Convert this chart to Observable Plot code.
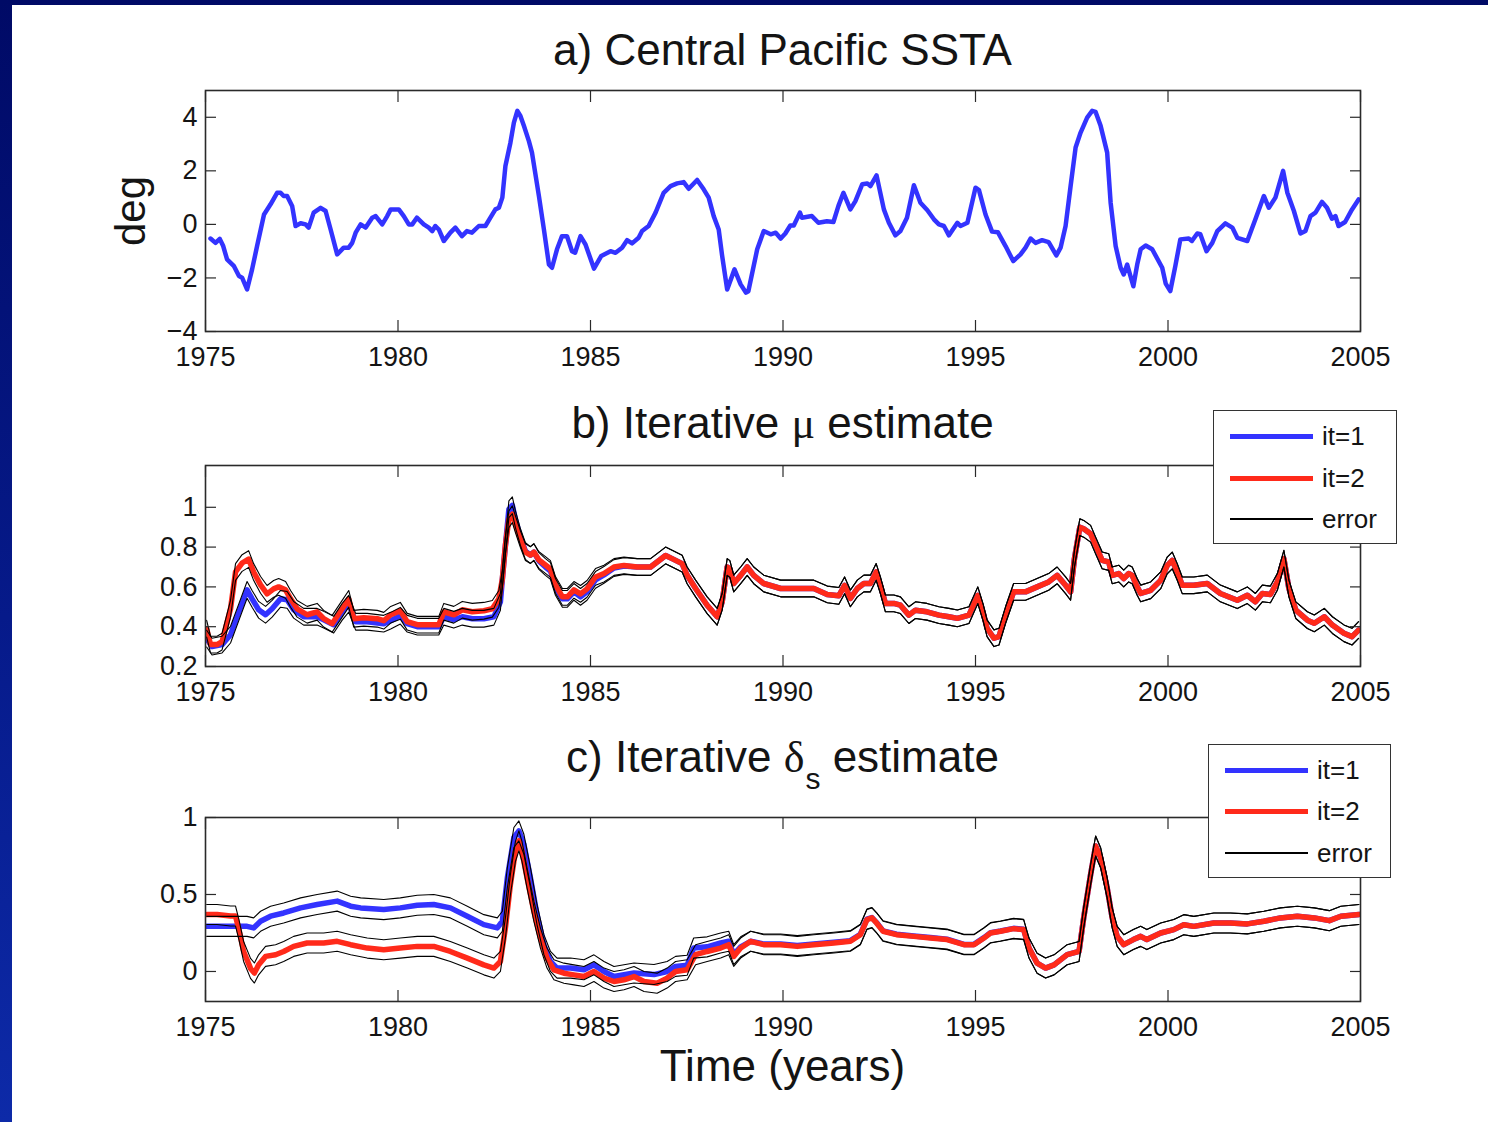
<!DOCTYPE html>
<html>
<head>
<meta charset="utf-8">
<script src="https://cdn.jsdelivr.net/npm/d3@7"></script>
<script src="https://cdn.jsdelivr.net/npm/@observablehq/plot@0.6"></script>
<style>
html, body { margin: 0; padding: 0; }
body {
  width: 1488px; height: 1122px; position: relative; overflow: hidden;
  background: linear-gradient(180deg, #000a66 0%, #061a8a 55%, #0d2aa8 100%);
  font-family: "Liberation Sans", Arial, Helvetica, sans-serif; color: #141414;
}
#page { position: absolute; left: 12px; top: 5px; right: 0; bottom: 0; background: #fff; }
.panel { position: absolute; left: 0; }
.title { position: absolute; font-size: 44px; line-height: 44px; white-space: nowrap; transform: translateX(-50%); }
.greek { font-family: "Liberation Serif", "DejaVu Serif", serif; }
.sub { position: relative; top: 0.55em; font-size: 30px; margin-left: 1px; }
.ylab { position: absolute; font-size: 42px; line-height: 42px; white-space: nowrap; transform: translate(-50%, -50%) rotate(-90deg); }
.legend { position: absolute; background: #fff; border: 1.6px solid #333; box-sizing: border-box; }
.legend .sw { position: absolute; }
.legend .lt { position: absolute; font-size: 26px; line-height: 26px; transform: translateY(-50%); white-space: nowrap; }
</style>
</head>
<body>
<div id="page"></div>
<script>
// ---------------- data ----------------
const xTicks = [1975, 1980, 1985, 1990, 1995, 2000, 2005];
const sstaTicks = [-4, -2, 0, 2, 4];
const muTicks = [0.2, 0.4, 0.6, 0.8, 1];
const deltaTicks = [0, 0.5, 1];
const panelTitles = ["a) Central Pacific SSTA", "b) Iterative ", "μ", " estimate", "c) Iterative ", "δ", "s", " estimate"];
const yLabelA = "deg";
const xLabel = "Time (years)";
const legendLabels = ["it=1", "it=2", "error"];
const errMu = 0.042;     // half-width of error band, panel b
const errDelta = 0.065;  // half-width of error band, panel c

// a) Central Pacific SSTA (deg)
const ssta = [[1975.13,-0.53],[1975.26,-0.69],[1975.37,-0.54],[1975.46,-0.81],[1975.56,-1.31],[1975.74,-1.56],[1975.87,-1.93],[1975.95,-1.99],[1976.08,-2.43],[1976.21,-1.68],[1976.34,-0.81],[1976.52,0.37],[1976.69,0.75],[1976.86,1.18],[1976.95,1.18],[1977.03,1.06],[1977.12,1.06],[1977.25,0.69],[1977.34,-0.06],[1977.47,0.04],[1977.6,0.0],[1977.68,-0.12],[1977.81,0.44],[1977.99,0.62],[1978.12,0.5],[1978.25,-0.19],[1978.42,-1.12],[1978.59,-0.87],[1978.72,-0.87],[1978.81,-0.69],[1978.9,-0.31],[1979.03,0.0],[1979.16,-0.12],[1979.33,0.25],[1979.42,0.31],[1979.59,0.0],[1979.72,0.31],[1979.81,0.56],[1980.02,0.56],[1980.15,0.31],[1980.28,0.0],[1980.37,0.0],[1980.49,0.25],[1980.67,0.0],[1980.8,-0.12],[1980.89,-0.25],[1980.97,-0.06],[1981.06,-0.19],[1981.19,-0.62],[1981.36,-0.31],[1981.49,-0.12],[1981.66,-0.44],[1981.79,-0.25],[1981.92,-0.31],[1982.1,-0.06],[1982.27,-0.06],[1982.4,0.25],[1982.53,0.56],[1982.62,0.62],[1982.71,1.0],[1982.79,2.18],[1982.92,3.05],[1983.01,3.8],[1983.1,4.24],[1983.18,4.05],[1983.27,3.68],[1983.4,3.11],[1983.48,2.68],[1983.66,1.06],[1983.79,-0.19],[1983.92,-1.5],[1984.0,-1.62],[1984.13,-0.93],[1984.26,-0.44],[1984.39,-0.44],[1984.52,-1.0],[1984.6,-1.06],[1984.74,-0.44],[1984.87,-0.75],[1985.09,-1.65],[1985.28,-1.18],[1985.52,-1.0],[1985.65,-1.06],[1985.82,-0.87],[1985.95,-0.59],[1986.08,-0.71],[1986.25,-0.5],[1986.34,-0.25],[1986.51,-0.06],[1986.69,0.44],[1986.9,1.18],[1987.08,1.43],[1987.25,1.53],[1987.42,1.58],[1987.55,1.33],[1987.77,1.66],[1987.94,1.31],[1988.07,1.0],[1988.2,0.31],[1988.33,-0.19],[1988.42,-1.18],[1988.55,-2.43],[1988.74,-1.68],[1988.9,-2.24],[1989.04,-2.55],[1989.1,-2.5],[1989.33,-0.93],[1989.5,-0.25],[1989.68,-0.37],[1989.81,-0.31],[1989.94,-0.53],[1990.06,-0.34],[1990.19,-0.04],[1990.28,-0.04],[1990.44,0.44],[1990.49,0.25],[1990.75,0.31],[1990.92,0.06],[1991.14,0.12],[1991.31,0.09],[1991.44,0.69],[1991.57,1.18],[1991.75,0.56],[1991.88,0.87],[1992.06,1.5],[1992.19,1.53],[1992.27,1.43],[1992.43,1.83],[1992.62,0.56],[1992.75,0.06],[1992.92,-0.41],[1993.05,-0.25],[1993.22,0.25],[1993.4,1.46],[1993.57,0.81],[1993.75,0.53],[1993.92,0.19],[1994.05,0.0],[1994.18,-0.06],[1994.31,-0.41],[1994.53,0.06],[1994.61,-0.06],[1994.79,0.06],[1995.0,1.37],[1995.09,1.28],[1995.26,0.37],[1995.43,-0.27],[1995.58,-0.29],[1995.78,-0.81],[1995.98,-1.37],[1996.17,-1.12],[1996.3,-0.87],[1996.43,-0.53],[1996.56,-0.69],[1996.73,-0.59],[1996.9,-0.66],[1997.1,-1.16],[1997.21,-0.87],[1997.34,-0.06],[1997.47,1.43],[1997.6,2.87],[1997.73,3.43],[1997.9,3.99],[1998.03,4.24],[1998.12,4.2],[1998.25,3.68],[1998.42,2.68],[1998.51,0.81],[1998.64,-0.81],[1998.77,-1.62],[1998.85,-1.87],[1998.94,-1.5],[1999.1,-2.31],[1999.2,-1.5],[1999.29,-0.93],[1999.42,-0.79],[1999.59,-0.93],[1999.85,-1.62],[1999.94,-2.21],[2000.06,-2.49],[2000.19,-1.56],[2000.32,-0.56],[2000.54,-0.53],[2000.62,-0.62],[2000.76,-0.34],[2000.84,-0.37],[2001.0,-1.0],[2001.15,-0.69],[2001.28,-0.25],[2001.49,0.04],[2001.67,-0.12],[2001.8,-0.5],[2002.06,-0.62],[2002.27,0.19],[2002.49,1.06],[2002.62,0.62],[2002.79,1.0],[2002.99,2.0],[2003.1,1.18],[2003.27,0.5],[2003.44,-0.34],[2003.57,-0.25],[2003.7,0.31],[2003.83,0.44],[2004.0,0.84],[2004.13,0.62],[2004.26,0.21],[2004.35,0.31],[2004.43,-0.06],[2004.6,0.09],[2004.78,0.56],[2004.95,0.93]];

// b) iterative mu estimate, iteration 2 (red)
const mu2 = [[1975.03,0.39],[1975.13,0.31],[1975.3,0.31],[1975.43,0.325],[1975.65,0.49],[1975.78,0.675],[1975.95,0.72],[1976.12,0.74],[1976.25,0.675],[1976.43,0.61],[1976.6,0.565],[1976.77,0.59],[1976.9,0.6],[1977.08,0.585],[1977.21,0.54],[1977.38,0.49],[1977.64,0.46],[1977.9,0.475],[1978.07,0.44],[1978.29,0.415],[1978.55,0.49],[1978.72,0.54],[1978.85,0.44],[1979.11,0.445],[1979.46,0.44],[1979.63,0.43],[1979.81,0.46],[1980.06,0.48],[1980.24,0.425],[1980.5,0.41],[1980.84,0.41],[1981.06,0.41],[1981.19,0.475],[1981.45,0.46],[1981.67,0.485],[1981.93,0.475],[1982.23,0.48],[1982.45,0.49],[1982.62,0.54],[1982.71,0.64],[1982.79,0.81],[1982.88,0.94],[1982.97,0.965],[1983.05,0.915],[1983.18,0.84],[1983.31,0.775],[1983.44,0.76],[1983.53,0.775],[1983.66,0.735],[1983.83,0.71],[1983.96,0.69],[1984.09,0.61],[1984.27,0.55],[1984.4,0.55],[1984.57,0.585],[1984.74,0.565],[1984.91,0.59],[1985.13,0.65],[1985.35,0.667],[1985.61,0.70],[1985.87,0.708],[1986.21,0.70],[1986.56,0.70],[1986.73,0.725],[1986.95,0.758],[1987.12,0.742],[1987.38,0.717],[1987.51,0.658],[1987.73,0.592],[1988.03,0.508],[1988.29,0.45],[1988.42,0.525],[1988.55,0.70],[1988.62,0.69],[1988.72,0.617],[1988.9,0.658],[1989.07,0.70],[1989.24,0.658],[1989.5,0.617],[1989.94,0.592],[1990.37,0.592],[1990.8,0.592],[1991.15,0.562],[1991.45,0.555],[1991.6,0.608],[1991.75,0.542],[1991.93,0.592],[1992.1,0.617],[1992.27,0.617],[1992.42,0.675],[1992.53,0.608],[1992.66,0.517],[1992.88,0.517],[1993.05,0.508],[1993.27,0.458],[1993.44,0.483],[1993.74,0.475],[1994.05,0.458],[1994.31,0.45],[1994.53,0.442],[1994.83,0.458],[1995.06,0.558],[1995.2,0.47],[1995.3,0.392],[1995.48,0.342],[1995.61,0.35],[1995.78,0.458],[1995.99,0.575],[1996.3,0.575],[1996.6,0.60],[1996.9,0.625],[1997.12,0.658],[1997.34,0.608],[1997.47,0.575],[1997.57,0.742],[1997.71,0.90],[1997.81,0.892],[1997.99,0.867],[1998.12,0.808],[1998.29,0.733],[1998.46,0.725],[1998.55,0.658],[1998.72,0.667],[1998.85,0.642],[1998.98,0.667],[1999.07,0.658],[1999.2,0.60],[1999.29,0.567],[1999.55,0.583],[1999.81,0.633],[1999.98,0.708],[2000.11,0.733],[2000.24,0.675],[2000.37,0.608],[2000.67,0.608],[2001.02,0.617],[2001.36,0.567],[2001.8,0.533],[2002.06,0.558],[2002.27,0.525],[2002.45,0.567],[2002.66,0.562],[2002.84,0.625],[2003.01,0.742],[2003.14,0.592],[2003.32,0.483],[2003.62,0.433],[2003.8,0.417],[2004.06,0.45],[2004.27,0.408],[2004.57,0.367],[2004.78,0.35],[2004.95,0.383]];

// b) iterative mu estimate, iteration 1 (blue)
const mu1 = [[1975.03,0.34],[1975.17,0.30],[1975.43,0.31],[1975.65,0.36],[1975.87,0.475],[1976.08,0.585],[1976.21,0.54],[1976.38,0.485],[1976.56,0.46],[1976.73,0.49],[1976.95,0.54],[1977.12,0.535],[1977.29,0.485],[1977.55,0.45],[1977.9,0.45],[1978.07,0.435],[1978.33,0.41],[1978.55,0.475],[1978.72,0.515],[1978.9,0.425],[1979.2,0.425],[1979.63,0.415],[1979.81,0.43],[1980.06,0.455],[1980.24,0.415],[1980.5,0.40],[1981.06,0.40],[1981.19,0.45],[1981.45,0.435],[1981.67,0.45],[1981.93,0.44],[1982.23,0.44],[1982.49,0.45],[1982.66,0.525],[1982.75,0.725],[1982.88,0.99],[1982.97,1.01],[1983.05,0.94],[1983.18,0.85],[1983.31,0.78],[1983.44,0.76],[1983.53,0.775],[1983.66,0.73],[1983.83,0.70],[1983.96,0.68],[1984.09,0.60],[1984.27,0.54],[1984.4,0.54],[1984.57,0.575],[1984.74,0.55],[1984.91,0.575],[1985.13,0.635],[1985.35,0.66],[1985.61,0.695],[1985.87,0.705],[1986.21,0.70],[1986.56,0.70],[1986.73,0.725],[1986.95,0.758],[1987.12,0.742],[1987.38,0.717],[1987.51,0.658],[1987.73,0.592],[1988.03,0.508],[1988.29,0.45],[1988.42,0.525],[1988.55,0.70],[1988.62,0.69],[1988.72,0.617],[1988.9,0.658],[1989.07,0.70],[1989.24,0.658],[1989.5,0.617],[1989.94,0.592],[1990.37,0.592],[1990.8,0.592],[1991.15,0.562],[1991.45,0.555],[1991.6,0.608],[1991.75,0.542],[1991.93,0.592],[1992.1,0.617],[1992.27,0.617],[1992.42,0.675],[1992.53,0.608],[1992.66,0.517],[1992.88,0.517],[1993.05,0.508],[1993.27,0.458],[1993.44,0.483],[1993.74,0.475],[1994.05,0.458],[1994.31,0.45],[1994.53,0.442],[1994.83,0.458],[1995.06,0.558],[1995.2,0.47],[1995.3,0.392],[1995.48,0.342],[1995.61,0.35],[1995.78,0.458],[1995.99,0.575],[1996.3,0.575],[1996.6,0.60],[1996.9,0.625],[1997.12,0.658],[1997.34,0.608],[1997.47,0.575],[1997.57,0.742],[1997.71,0.90],[1997.81,0.892],[1997.99,0.867],[1998.12,0.808],[1998.29,0.733],[1998.46,0.725],[1998.55,0.658],[1998.72,0.667],[1998.85,0.642],[1998.98,0.667],[1999.07,0.658],[1999.2,0.60],[1999.29,0.567],[1999.55,0.583],[1999.81,0.633],[1999.98,0.708],[2000.11,0.733],[2000.24,0.675],[2000.37,0.608],[2000.67,0.608],[2001.02,0.617],[2001.36,0.567],[2001.8,0.533],[2002.06,0.558],[2002.27,0.525],[2002.45,0.567],[2002.66,0.562],[2002.84,0.625],[2003.01,0.742],[2003.14,0.592],[2003.32,0.483],[2003.62,0.433],[2003.8,0.417],[2004.06,0.45],[2004.27,0.408],[2004.57,0.367],[2004.78,0.35],[2004.95,0.383]];

// c) iterative delta_s estimate, iteration 2 (red)
const delta2 = [[1975.03,0.37],[1975.3,0.37],[1975.65,0.36],[1975.78,0.36],[1975.87,0.27],[1975.99,0.13],[1976.17,0.02],[1976.27,-0.01],[1976.38,0.043],[1976.56,0.098],[1976.82,0.109],[1977.03,0.13],[1977.29,0.163],[1977.64,0.185],[1978.07,0.185],[1978.42,0.196],[1978.77,0.174],[1979.2,0.152],[1979.63,0.141],[1980.06,0.152],[1980.5,0.163],[1980.93,0.163],[1981.36,0.13],[1981.8,0.087],[1982.23,0.043],[1982.49,0.022],[1982.66,0.065],[1982.79,0.283],[1982.92,0.565],[1983.05,0.78],[1983.14,0.848],[1983.22,0.78],[1983.35,0.61],[1983.53,0.39],[1983.7,0.217],[1983.87,0.087],[1984.05,0.011],[1984.31,-0.011],[1984.57,-0.022],[1984.83,-0.033],[1985.09,0.0],[1985.35,-0.043],[1985.61,-0.065],[1985.87,-0.054],[1986.13,-0.033],[1986.39,-0.065],[1986.73,-0.076],[1986.99,-0.043],[1987.21,0.0],[1987.51,0.011],[1987.73,0.109],[1988.03,0.13],[1988.38,0.152],[1988.59,0.174],[1988.72,0.098],[1988.9,0.152],[1989.16,0.196],[1989.5,0.174],[1989.94,0.174],[1990.37,0.163],[1990.8,0.174],[1991.32,0.185],[1991.75,0.196],[1992.01,0.239],[1992.18,0.337],[1992.31,0.348],[1992.43,0.315],[1992.6,0.261],[1992.95,0.239],[1993.4,0.228],[1993.83,0.217],[1994.26,0.207],[1994.7,0.174],[1994.96,0.174],[1995.22,0.217],[1995.39,0.25],[1995.65,0.261],[1995.99,0.278],[1996.25,0.272],[1996.39,0.152],[1996.6,0.054],[1996.82,0.022],[1997.04,0.043],[1997.38,0.109],[1997.69,0.13],[1997.81,0.348],[1997.99,0.63],[1998.12,0.815],[1998.25,0.739],[1998.42,0.543],[1998.55,0.348],[1998.68,0.228],[1998.85,0.174],[1999.1,0.207],[1999.29,0.228],[1999.45,0.207],[1999.81,0.25],[2000.15,0.272],[2000.41,0.304],[2000.67,0.293],[2001.19,0.315],[2001.62,0.315],[2002.06,0.309],[2002.49,0.326],[2002.92,0.348],[2003.36,0.359],[2003.8,0.348],[2004.19,0.33],[2004.49,0.359],[2004.96,0.37]];

// c) iterative delta_s estimate, iteration 1 (blue)
const delta1 = [[1975.03,0.293],[1975.74,0.293],[1976.08,0.293],[1976.25,0.283],[1976.43,0.326],[1976.69,0.359],[1977.03,0.38],[1977.47,0.413],[1977.9,0.435],[1978.42,0.457],[1978.77,0.424],[1979.03,0.413],[1979.63,0.402],[1980.06,0.413],[1980.5,0.43],[1980.93,0.435],[1981.36,0.413],[1981.8,0.359],[1982.23,0.304],[1982.58,0.283],[1982.71,0.326],[1982.84,0.609],[1983.01,0.87],[1983.14,0.913],[1983.27,0.826],[1983.44,0.609],[1983.61,0.37],[1983.79,0.174],[1983.96,0.065],[1984.13,0.022],[1984.48,0.022],[1984.83,0.011],[1985.09,0.043],[1985.35,0.0],[1985.61,-0.033],[1986.13,-0.01],[1986.65,-0.02],[1986.99,0.0],[1987.21,0.033],[1987.51,0.04],[1987.68,0.152],[1988.03,0.16],[1988.38,0.185],[1988.59,0.196],[1988.72,0.11],[1988.9,0.16],[1989.16,0.196],[1989.5,0.178],[1989.94,0.178],[1990.37,0.168],[1990.8,0.178],[1991.32,0.19],[1991.75,0.2],[1992.01,0.242],[1992.18,0.34],[1992.31,0.35],[1992.43,0.318],[1992.6,0.264],[1992.95,0.242],[1993.4,0.23],[1993.83,0.22],[1994.26,0.21],[1994.7,0.176],[1994.96,0.176],[1995.22,0.22],[1995.39,0.252],[1995.65,0.263],[1995.99,0.28],[1996.25,0.274],[1996.39,0.152],[1996.6,0.054],[1996.82,0.022],[1997.04,0.043],[1997.38,0.109],[1997.69,0.13],[1997.81,0.348],[1997.99,0.63],[1998.12,0.815],[1998.25,0.739],[1998.42,0.543],[1998.55,0.348],[1998.68,0.228],[1998.85,0.174],[1999.1,0.207],[1999.29,0.228],[1999.45,0.207],[1999.81,0.25],[2000.15,0.272],[2000.41,0.304],[2000.67,0.293],[2001.19,0.315],[2001.62,0.315],[2002.06,0.309],[2002.49,0.326],[2002.92,0.348],[2003.36,0.359],[2003.8,0.348],[2004.19,0.33],[2004.49,0.359],[2004.96,0.37]];

// ---------------- styling ----------------
const BLUE = "#3333ff";
const RED = "#ff2a1a";
const AX = "#2a2a2a";
const TXT = "#141414";
const FONT = '"Liberation Sans", Arial, Helvetica, sans-serif';
const W = 1488, ML = 205, MR = 128;

const fmtY = d => d < 0 ? "\u2212" + Math.abs(d) : String(d);
const X = d => d[0], Y = d => d[1];

function frameMarks(yTicks) {
  return [
    Plot.axisX({ticks: xTicks, anchor: "bottom", tickSize: -11, tickFormat: () => "", stroke: AX, strokeWidth: 1.2, label: null}),
    Plot.axisX({ticks: xTicks, anchor: "top", tickSize: -11, tickFormat: () => "", stroke: AX, strokeWidth: 1.2, label: null}),
    Plot.axisY({ticks: yTicks, anchor: "left", tickSize: -11, tickFormat: () => "", stroke: AX, strokeWidth: 1.2, label: null}),
    Plot.axisY({ticks: yTicks, anchor: "right", tickSize: -11, tickFormat: () => "", stroke: AX, strokeWidth: 1.2, label: null}),
    Plot.axisX({ticks: xTicks, anchor: "bottom", tickSize: 0, tickPadding: 15, tickFormat: d => String(d), fontSize: 27, fill: TXT, label: null}),
    Plot.axisY({ticks: yTicks, anchor: "left", tickSize: 0, tickPadding: 8, tickFormat: fmtY, fontSize: 27, fill: TXT, label: null}),
    Plot.frame({stroke: AX, strokeWidth: 1.6})
  ];
}

function makePanel(top, height, mt, mb, yDomain, yTicks, marks) {
  const svg = Plot.plot({
    width: W, height,
    marginLeft: ML, marginRight: MR, marginTop: mt, marginBottom: mb,
    style: {background: "transparent", fontFamily: FONT, color: TXT, overflow: "visible"},
    x: {domain: [1975, 2005]},
    y: {domain: yDomain},
    marks: [...marks, ...frameMarks(yTicks)]
  });
  svg.classList.add("panel");
  svg.style.top = top + "px";
  document.body.appendChild(svg);
}

function errLines(series, e) {
  return [
    Plot.line(series, {x: X, y: d => d[1] + e, stroke: "#000", strokeWidth: 1.1, clip: true}),
    Plot.line(series, {x: X, y: d => d[1] - e, stroke: "#000", strokeWidth: 1.1, clip: true})
  ];
}

// Panel a
makePanel(0, 380, 90, 49, [-4, 5], sstaTicks, [
  Plot.line(ssta, {x: X, y: Y, stroke: BLUE, strokeWidth: 4.5, strokeLinejoin: "round", clip: true})
]);

// Panel b
makePanel(380, 340, 85, 54, [0.2, 1.21], muTicks, [
  Plot.line(mu1, {x: X, y: Y, stroke: BLUE, strokeWidth: 5.5, strokeLinejoin: "round", clip: true}),
  Plot.line(mu2, {x: X, y: Y, stroke: RED, strokeWidth: 5.5, strokeLinejoin: "round", clip: true}),
  ...errLines(mu1, errMu),
  ...errLines(mu2, errMu)
]);

// Panel c
makePanel(720, 340, 97, 59, [-0.195, 1], deltaTicks, [
  Plot.line(delta1, {x: X, y: Y, stroke: BLUE, strokeWidth: 5.5, strokeLinejoin: "round", clip: true}),
  Plot.line(delta2, {x: X, y: Y, stroke: RED, strokeWidth: 5.5, strokeLinejoin: "round", clip: true}),
  ...errLines(delta1, errDelta),
  ...errLines(delta2, errDelta)
]);

// ---------------- text: titles, labels ----------------
function addDiv(cls, html, left, top) {
  const d = document.createElement("div");
  d.className = cls;
  d.innerHTML = html;
  d.style.left = left + "px";
  d.style.top = top + "px";
  document.body.appendChild(d);
  return d;
}
const cx = (ML + (W - MR)) / 2;
addDiv("title", panelTitles[0], cx, 28);
addDiv("title", panelTitles[1] + '<span class="greek">' + panelTitles[2] + '</span>' + panelTitles[3], cx, 401);
addDiv("title", panelTitles[4] + '<span class="greek">' + panelTitles[5] + '</span><span class="sub">' + panelTitles[6] + '</span>' + panelTitles[7], cx, 735);
addDiv("title", xLabel, cx, 1044);
addDiv("ylab", yLabelA, 131, 211);

// ---------------- legends ----------------
function addLegend(left, top, w, h, rows, lineLeft, lineW, textLeft) {
  const box = document.createElement("div");
  box.className = "legend";
  Object.assign(box.style, {left: left + "px", top: top + "px", width: w + "px", height: h + "px"});
  const styles = [{c: BLUE, t: 5}, {c: RED, t: 5}, {c: "#000", t: 1.2}];
  legendLabels.forEach((lab, i) => {
    const sw = document.createElement("div");
    sw.className = "sw";
    Object.assign(sw.style, {left: lineLeft + "px", width: lineW + "px", top: (rows[i] - styles[i].t / 2) + "px", height: styles[i].t + "px", background: styles[i].c});
    box.appendChild(sw);
    const t = document.createElement("div");
    t.className = "lt";
    t.textContent = lab;
    Object.assign(t.style, {left: textLeft + "px", top: rows[i] + "px"});
    box.appendChild(t);
  });
  document.body.appendChild(box);
}
addLegend(1213, 410, 184, 134, [25, 67, 108], 16, 83, 108);
addLegend(1208, 744, 183, 134, [25, 66, 108], 16, 83, 108);
</script>
</body>
</html>
